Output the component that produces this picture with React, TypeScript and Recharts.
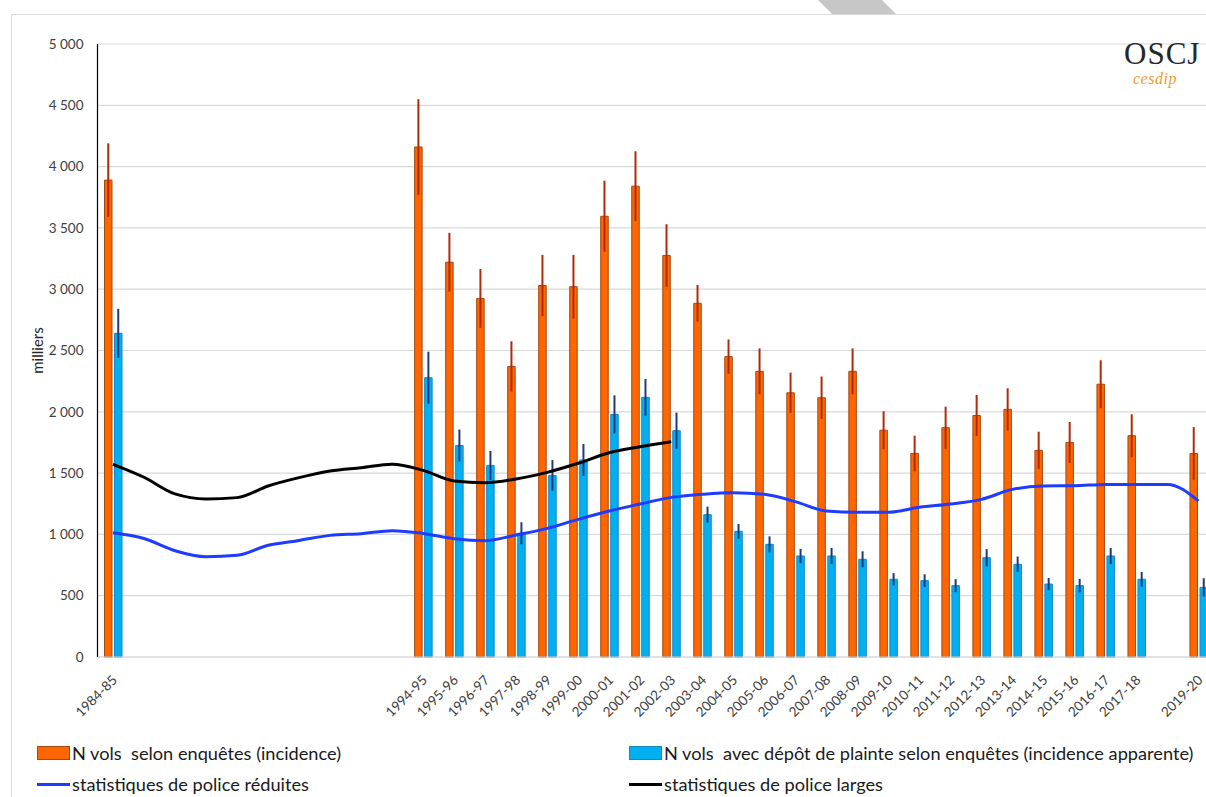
import React from "react";
import {
  ComposedChart,
  Bar,
  Line,
  XAxis,
  YAxis,
  CartesianGrid,
  ErrorBar,
} from "recharts";

const periods = [
  "1984-85", "1985-86", "1986-87", "1987-88", "1988-89", "1989-90",
  "1990-91", "1991-92", "1992-93", "1993-94", "1994-95", "1995-96",
  "1996-97", "1997-98", "1998-99", "1999-00", "2000-01", "2001-02",
  "2002-03", "2003-04", "2004-05", "2005-06", "2006-07", "2007-08",
  "2008-09", "2009-10", "2010-11", "2011-12", "2012-13", "2013-14",
  "2014-15", "2015-16", "2016-17", "2017-18", "2018-19", "2019-20",
];

// N vols selon enquêtes (incidence), milliers
const incidence = [
  3890, null, null, null, null, null, null, null, null, null,
  4160, 3220, 2925, 2370, 3030, 3020, 3595, 3840, 3275, 2885,
  2450, 2330, 2155, 2115, 2330, 1850, 1660, 1870, 1970, 2020,
  1685, 1750, 2225, 1805, null, 1660,
];
const incidenceErr = [
  300, null, null, null, null, null, null, null, null, null,
  390, 240, 240, 205, 250, 260, 290, 285, 255, 150,
  140, 187, 165, 173, 187, 155, 145, 172, 167, 172,
  153, 167, 195, 175, null, 215,
];

// N vols avec dépôt de plainte (incidence apparente)
const apparent = [
  2640, null, null, null, null, null, null, null, null, null,
  2278, 1725, 1563, 1009, 1481, 1607, 1979, 2118, 1846, 1161,
  1025, 919, 824, 824, 797, 634, 623, 582, 810, 756,
  595, 582, 824, 634, null, 568,
];
const apparentErr = [
  200, null, null, null, null, null, null, null, null, null,
  212, 130, 118, 90, 125, 130, 155, 150, 147, 65,
  60, 65, 58, 65, 65, 50, 52, 53, 70, 63,
  50, 55, 65, 60, null, 75,
];

const policeReduced = [
  1014, 967, 867, 818, 829, 911, 951, 992, 1006, 1030,
  1008, 965, 949, 995, 1049, 1123, 1191, 1248, 1302, 1327,
  1340, 1327, 1267, 1191, 1180, 1180, 1221, 1248, 1286, 1367,
  1395, 1397, 1408, 1408, 1408, 1272,
];
const policeLarge = [
  1572, 1466, 1330, 1289, 1300, 1395, 1463, 1517, 1544, 1572,
  1522, 1436, 1422, 1452, 1506, 1580, 1666, 1715, 1756, null,
  null, null, null, null, null, null, null, null, null, null,
  null, null, null, null, null, null,
];

const yTicks = [0, 500, 1000, 1500, 2000, 2500, 3000, 3500, 4000, 4500, 5000];

const data = periods.map((p, i) => ({
  period: p,
  incidence: incidence[i],
  incidenceErr: incidenceErr[i],
  apparent: apparent[i],
  apparentErr: apparentErr[i],
  reduced: policeReduced[i],
  large: policeLarge[i],
}));

const FONT = "Lato, 'Open Sans', sans-serif";

const fmt = (v: number) =>
  v >= 1000 ? `${Math.floor(v / 1000)} ${String(v % 1000).padStart(3, "0")}` : `${v}`;

function PeriodTick(props: any) {
  const { x, y, payload } = props;
  const i = periods.indexOf(payload.value);
  if (i < 0 || incidence[i] == null) return null;
  const tx = x + 5;
  const ty = y + 22;
  return (
    <text
      x={tx}
      y={ty}
      transform={`rotate(-45 ${tx} ${ty})`}
      textAnchor="end"
      fontSize={13.5}
      fontFamily={FONT}
      fill="#404040"
    >
      {payload.value}
    </text>
  );
}

function AxisTitle(props: any) {
  const { viewBox } = props;
  const cx = viewBox.x + 37;
  const cy = viewBox.y + viewBox.height / 2;
  return (
    <text
      x={cx}
      y={cy}
      transform={`rotate(-90 ${cx} ${cy})`}
      textAnchor="middle"
      dominantBaseline="central"
      fontSize={15}
      fontFamily={FONT}
      fill="#262626"
    >
      milliers
    </text>
  );
}

function LegendItem({ kind, color, border, label }: { kind: "box" | "line"; color: string; border?: string; label: string }) {
  return (
    <div style={{ display: "flex", alignItems: "center", height: 20 }}>
      {kind === "box" ? (
        <span style={{ width: 31, height: 12, background: color, border: `1px solid ${border}`, marginRight: 2 }} />
      ) : (
        <span style={{ width: 33, height: 3, background: color, marginRight: 2 }} />
      )}
      <span style={{ fontSize: 18.2, color: "#1a1a1a", whiteSpace: "pre" }}>{label}</span>
    </div>
  );
}

export default function App() {
  return (
    <div
      style={{
        position: "absolute",
        left: 0,
        top: 0,
        width: 1206,
        height: 797,
        overflow: "hidden",
        background: "#fff",
        fontFamily: FONT,
      }}
    >
      {/* frame and tab decoration */}
      <div style={{ position: "absolute", left: 11, top: 14, width: 1195, height: 783, borderLeft: "1.5px solid #d9d9d9", borderTop: "1.5px solid #d9d9d9" }} />
      <div style={{ position: "absolute", left: 818, top: 0, width: 78, height: 14, background: "#c7c7c7", clipPath: "polygon(0 0, 82% 0, 100% 100%, 18% 100%)" }} />

      <ComposedChart
        width={1214}
        height={797}
        data={data}
        margin={{ top: 44, right: 0, bottom: 0, left: 0 }}
        barSize={7.5}
        barGap={2.5}
        style={{ position: "absolute", left: 0, top: 0 }}
      >
        <CartesianGrid vertical={false} stroke="#d9d9d9" strokeWidth={1.2} />
        <XAxis
          dataKey="period"
          interval={0}
          height={140}
          tickLine={false}
          tickSize={0}
          axisLine={{ stroke: "#d9d9d9" }}
          tick={<PeriodTick />}
        />
        <YAxis
          width={97.5}
          domain={[0, 5000]}
          ticks={yTicks}
          tickFormatter={fmt}
          tickLine={false}
          tickSize={0}
          tickMargin={14}
          axisLine={{ stroke: "#000", strokeWidth: 1.2 }}
          tick={{ fontSize: 13.5, fill: "#404040", fontFamily: FONT }}
          label={<AxisTitle />}
        />
        <Bar dataKey="incidence" fill="#ff6600" stroke="#a34a12" strokeWidth={1} isAnimationActive={false}>
          <ErrorBar dataKey="incidenceErr" width={0} stroke="#b02a0a" strokeWidth={2} direction="y" isAnimationActive={false} />
        </Bar>
        <Bar dataKey="apparent" fill="#00b0f0" stroke="#1a86c4" strokeWidth={1} isAnimationActive={false}>
          <ErrorBar dataKey="apparentErr" width={0} stroke="#1f3a7a" strokeWidth={2} direction="y" isAnimationActive={false} />
        </Bar>
        <Line dataKey="large" type="monotone" stroke="#000" strokeWidth={3} dot={false} connectNulls={false} isAnimationActive={false} />
        <Line dataKey="reduced" type="monotone" stroke="#1e3cff" strokeWidth={3} dot={false} isAnimationActive={false} />
      </ComposedChart>

      {/* logo */}
      <div style={{ position: "absolute", left: 1124, top: 38, fontFamily: "'Liberation Serif', serif", fontSize: 31, letterSpacing: 1, color: "#262626", lineHeight: 1 }}>
        OSCJ
      </div>
      <div style={{ position: "absolute", left: 1133, top: 71, fontFamily: "'Liberation Serif', serif", fontStyle: "italic", fontSize: 16, color: "#f29a2e", lineHeight: 1, letterSpacing: 0.5 }}>
        cesdip
      </div>

      {/* legend */}
      <div style={{ position: "absolute", left: 37, top: 743 }}>
        <LegendItem kind="box" color="#ff6600" border="#a34a12" label="N vols  selon enquêtes (incidence)" />
        <div style={{ height: 11 }} />
        <LegendItem kind="line" color="#1e3cff" label="statistiques de police réduites" />
      </div>
      <div style={{ position: "absolute", left: 629, top: 743 }}>
        <LegendItem kind="box" color="#00b0f0" border="#1a86c4" label="N vols  avec dépôt de plainte selon enquêtes (incidence apparente)" />
        <div style={{ height: 11 }} />
        <LegendItem kind="line" color="#000" label="statistiques de police larges" />
      </div>
    </div>
  );
}
